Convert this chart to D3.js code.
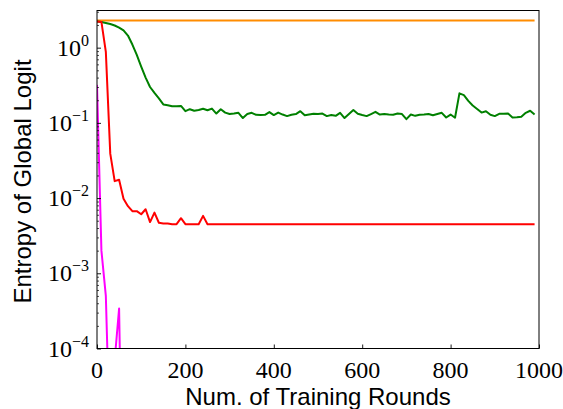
<!doctype html>
<html>
<head>
<meta charset="utf-8">
<title>Entropy of Global Logit</title>
<style>
  body { margin: 0; background: #fff; }
  svg { display: block; }
</style>
</head>
<body>
<div id="here"></div>
<script src="https://cdn.jsdelivr.net/npm/d3@7"></script>
<script>
var w = 563, h = 409;
var m = {left: 97, right: 24, top: 10.5, bottom: 60.5};

// training rounds (every 10 rounds)
var rounds = d3.range(0, 1000, 10);
var xTicks = [0, 200, 400, 600, 800, 1000];
var yTicks = [1, 0.1, 0.01, 0.001, 0.0001];
var yTickExp = ['0', '\u22121', '\u22122', '\u22123', '\u22124'];

var orangeVals = [
  2.3026, 2.3026, 2.3026, 2.3026, 2.3026, 2.3026, 2.3026, 2.3026, 2.3026, 2.3026,
  2.3026, 2.3026, 2.3026, 2.3026, 2.3026, 2.3026, 2.3026, 2.3026, 2.3026, 2.3026,
  2.3026, 2.3026, 2.3026, 2.3026, 2.3026, 2.3026, 2.3026, 2.3026, 2.3026, 2.3026,
  2.3026, 2.3026, 2.3026, 2.3026, 2.3026, 2.3026, 2.3026, 2.3026, 2.3026, 2.3026,
  2.3026, 2.3026, 2.3026, 2.3026, 2.3026, 2.3026, 2.3026, 2.3026, 2.3026, 2.3026,
  2.3026, 2.3026, 2.3026, 2.3026, 2.3026, 2.3026, 2.3026, 2.3026, 2.3026, 2.3026,
  2.3026, 2.3026, 2.3026, 2.3026, 2.3026, 2.3026, 2.3026, 2.3026, 2.3026, 2.3026,
  2.3026, 2.3026, 2.3026, 2.3026, 2.3026, 2.3026, 2.3026, 2.3026, 2.3026, 2.3026,
  2.3026, 2.3026, 2.3026, 2.3026, 2.3026, 2.3026, 2.3026, 2.3026, 2.3026, 2.3026,
  2.3026, 2.3026, 2.3026, 2.3026, 2.3026, 2.3026, 2.3026, 2.3026, 2.3026, 2.3026
];

var greenVals = [
  2.23, 2.19, 2.13, 2.06, 1.97, 1.85, 1.70, 1.45, 1.10, 0.80,
  0.56, 0.40, 0.30, 0.25, 0.212, 0.176, 0.172, 0.166, 0.166, 0.168,
  0.143, 0.152, 0.145, 0.148, 0.154, 0.147, 0.155, 0.133, 0.152, 0.137,
  0.131, 0.133, 0.136, 0.116, 0.131, 0.136, 0.128, 0.127, 0.128, 0.139,
  0.127, 0.137, 0.129, 0.123, 0.128, 0.131, 0.143, 0.126, 0.129, 0.132,
  0.131, 0.133, 0.123, 0.127, 0.124, 0.136, 0.116, 0.131, 0.148, 0.132,
  0.127, 0.123, 0.131, 0.140, 0.129, 0.131, 0.129, 0.128, 0.133, 0.131,
  0.112, 0.129, 0.124, 0.128, 0.129, 0.131, 0.126, 0.131, 0.136, 0.118,
  0.129, 0.117, 0.247, 0.234, 0.196, 0.170, 0.153, 0.137, 0.143, 0.128,
  0.123, 0.132, 0.132, 0.133, 0.118, 0.119, 0.121, 0.136, 0.145, 0.129
];

var redVals = [
  2.23, 2.20, 0.88, 0.039, 0.0168, 0.0175, 0.0098, 0.0078, 0.0067, 0.0067,
  0.0061, 0.0071, 0.0048, 0.0064, 0.0047, 0.0046, 0.0046, 0.0045, 0.0045, 0.0054,
  0.0045, 0.0045, 0.0045, 0.0045, 0.0058, 0.0045, 0.0045, 0.0045, 0.0045, 0.0045,
  0.0045, 0.0045, 0.0045, 0.0045, 0.0045, 0.0045, 0.0045, 0.0045, 0.0045, 0.0045,
  0.0045, 0.0045, 0.0045, 0.0045, 0.0045, 0.0045, 0.0045, 0.0045, 0.0045, 0.0045,
  0.0045, 0.0045, 0.0045, 0.0045, 0.0045, 0.0045, 0.0045, 0.0045, 0.0045, 0.0045,
  0.0045, 0.0045, 0.0045, 0.0045, 0.0045, 0.0045, 0.0045, 0.0045, 0.0045, 0.0045,
  0.0045, 0.0045, 0.0045, 0.0045, 0.0045, 0.0045, 0.0045, 0.0045, 0.0045, 0.0045,
  0.0045, 0.0045, 0.0045, 0.0045, 0.0045, 0.0045, 0.0045, 0.0045, 0.0045, 0.0045,
  0.0045, 0.0045, 0.0045, 0.0045, 0.0045, 0.0045, 0.0045, 0.0045, 0.0045, 0.0045
];

// magenta collapses below the axis after a few rounds
var magentaRounds = [0, 10, 20, 30, 40, 50, 60];
var magentaVals = [0.32, 0.002, 0.0005, 0.000004, 0.00007, 0.00034, 0.0000001];

var series = [
  {name: 'orange', color: '#ff8c00', xs: rounds, ys: orangeVals},
  {name: 'green', color: '#008000', xs: rounds, ys: greenVals},
  {name: 'red', color: '#ff0000', xs: rounds, ys: redVals},
  {name: 'magenta', color: '#ff00ff', xs: magentaRounds, ys: magentaVals}
];

var pw = w - m.left - m.right, ph = h - m.top - m.bottom;

var x = d3.scaleLinear().domain([0, 1000]).range([m.left, m.left + pw]);
var y = d3.scaleLog().domain([0.0001, 3.12]).range([m.top + ph, m.top]);

var svg = d3.select('#here').append('svg')
  .attr('width', w)
  .attr('height', h)
  .style('background', '#fff');

svg.append('clipPath').attr('id', 'plot')
  .append('rect')
  .attr('x', m.left).attr('y', m.top)
  .attr('width', pw).attr('height', ph);

var line = d3.line()
  .x(function(d) { return x(d[0]); })
  .y(function(d) { return y(d[1]); });

svg.append('g').attr('clip-path', 'url(#plot)')
  .selectAll('path')
  .data(series)
  .enter().append('path')
  .attr('d', function(s) { return line(d3.zip(s.xs, s.ys)); })
  .attr('fill', 'none')
  .attr('stroke', function(s) { return s.color; })
  .attr('stroke-width', 2)
  .attr('stroke-linejoin', 'round');

// ticks point inward (matplotlib direction='in')
var xAxis = d3.axisBottom(x).tickValues(xTicks).tickSize(-4).tickFormat('');
svg.append('g')
  .attr('transform', 'translate(0,' + (m.top + ph) + ')')
  .call(xAxis)
  .call(function(g) { g.select('.domain').remove(); })
  .selectAll('line').attr('stroke', '#000').attr('stroke-width', 0.9);

var minor = y.ticks().filter(function(v) {
  return yTicks.indexOf(v) < 0;
});
var yMinor = d3.axisLeft(y).tickValues(minor).tickSize(-2).tickFormat('');
svg.append('g')
  .attr('transform', 'translate(' + m.left + ',0)')
  .call(yMinor)
  .call(function(g) { g.select('.domain').remove(); })
  .selectAll('line').attr('stroke', '#000').attr('stroke-width', 0.7);

var yMajor = d3.axisLeft(y).tickValues(yTicks).tickSize(-4).tickFormat('');
svg.append('g')
  .attr('transform', 'translate(' + m.left + ',0)')
  .call(yMajor)
  .call(function(g) { g.select('.domain').remove(); })
  .selectAll('line').attr('stroke', '#000').attr('stroke-width', 0.9);

// frame
svg.append('rect')
  .attr('x', m.left).attr('y', m.top)
  .attr('width', pw).attr('height', ph)
  .attr('fill', 'none')
  .attr('stroke', '#000')
  .attr('stroke-width', 1);

// tick labels
svg.append('g').selectAll('text')
  .data(xTicks)
  .enter().append('text')
  .attr('x', function(d) { return x(d); })
  .attr('y', m.top + ph + 29)
  .attr('text-anchor', 'middle')
  .style('font-family', 'Liberation Serif, serif')
  .style('font-size', '24px')
  .text(function(d) { return d; });

var yl = svg.append('g').selectAll('text')
  .data(yTicks)
  .enter().append('text')
  .attr('x', m.left - 8)
  .attr('y', function(d) { return y(d) + 8; })
  .attr('text-anchor', 'end')
  .style('font-family', 'Liberation Serif, serif')
  .style('font-size', '24px');
yl.append('tspan').text('10');
yl.append('tspan')
  .attr('dy', -10)
  .style('font-size', '16px')
  .text(function(d, i) { return yTickExp[i]; });

// axis titles
svg.append('text')
  .attr('x', m.left + pw / 2)
  .attr('y', 405)
  .attr('text-anchor', 'middle')
  .style('font-family', 'Liberation Sans, Arial, sans-serif')
  .style('font-size', '24px')
  .text('Num. of Training Rounds');

svg.append('text')
  .attr('transform', 'translate(31,' + (m.top + ph / 2 + 2) + ') rotate(-90)')
  .attr('text-anchor', 'middle')
  .style('font-family', 'Liberation Sans, Arial, sans-serif')
  .style('font-size', '24px')
  .text('Entropy of Global Logit');
</script>
</body>
</html>
